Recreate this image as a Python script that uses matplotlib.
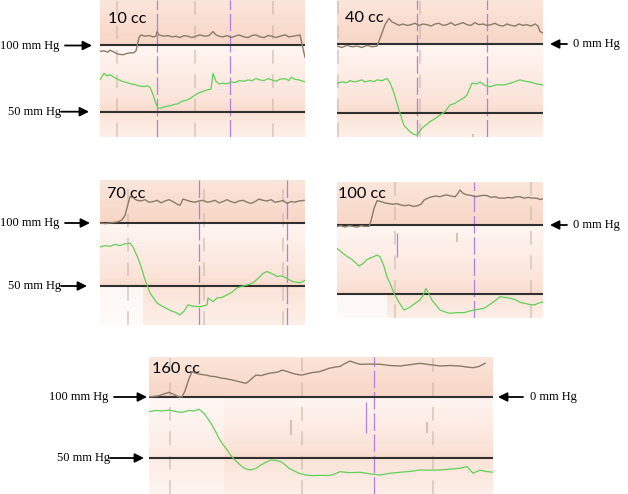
import numpy as np
import matplotlib.pyplot as plt
from matplotlib.colors import to_rgb

# ---- data (time in samples, pressure in mm Hg) ----
# green = arterial pressure (upper black line = 100, lower = 50)
# brown = second channel, 0 mm Hg at the upper black line
labels = ["10 cc", "40 cc", "70 cc", "100 cc", "160 cc"]
durations = [205, 206, 205, 206, 344]

p10_green = [(0, 74), (4, 79), (7, 77), (10, 78), (14, 76), (18, 74.5), (22, 73), (27, 72), (31, 71),
             (35, 70.5), (39, 69.5), (43, 69), (47, 69.5), (50, 68.5), (53, 63), (56, 56), (58, 52.5),
             (62, 53), (66, 54), (70, 54.5), (74, 55.5), (78, 56), (82, 58), (86, 58.5), (90, 60),
             (94, 62), (98, 64), (102, 65), (107, 66.5), (111, 67), (113, 79), (116, 73), (119, 71),
             (123, 71.5), (127, 71), (131, 72.5), (135, 72), (139, 73.5), (144, 73), (148, 74),
             (152, 73.5), (156, 75), (160, 74), (164, 73.5), (168, 75), (172, 74), (176, 73),
             (180, 74.5), (185, 75), (189, 73.5), (191, 76), (195, 74.5), (199, 74), (205, 72.5)]
p10_brown = [(0, -4.5), (4, -4), (8, -5), (10, -3.5), (14, -5), (18, -6.5), (23, -7), (27, -6),
             (31, -5.5), (34, -5.5), (36, -4), (39, 6), (41, 8), (45, 7), (49, 7.5), (53, 6.5),
             (56, 7), (57, 10.5), (59, 8), (64, 7), (68, 7.5), (72, 6.5), (76, 7), (80, 6), (84, 7.5),
             (88, 7), (92, 6), (96, 7), (100, 8), (105, 7), (109, 7.5), (113, 10.5), (116, 8), (119, 7),
             (123, 6.5), (127, 7.5), (131, 6), (135, 7), (139, 8), (144, 6.5), (148, 6), (152, 7.5),
             (156, 8), (160, 6.5), (164, 6), (168, 7.5), (172, 7), (176, 6), (180, 7), (185, 8),
             (189, 6.5), (193, 7), (197, 7.5), (200, 8), (205, -9)]

p40_green = [(0, 71.5), (5, 72.5), (10, 72), (13, 73.5), (17, 72.5), (20, 73), (25, 74), (28, 72.5),
             (33, 73.5), (37, 72.7), (40, 74), (45, 73.5), (50, 75), (53, 72), (57, 64.5), (62, 52),
             (67, 41), (73, 36.4), (77, 34.5), (80, 34), (85, 39), (93, 43.7), (98, 46), (103, 48.5),
             (108, 51), (113, 55.8), (118, 57), (123, 59.4), (127, 61), (130, 63), (135, 71.7),
             (140, 71), (143, 72.5), (148, 70), (153, 69), (160, 70.5), (167, 70.3), (175, 72),
             (183, 74), (188, 73), (193, 72.5), (200, 71), (206, 70.3)]
p40_brown = [(0, -1.5), (5, -2.5), (10, -1), (15, -2), (20, -1.5), (25, -2.5), (30, -1), (35, -2),
             (40, -1.5), (44, 6), (48, 14), (52, 18.5), (55, 16), (58, 15), (62, 13.5), (66, 14.5),
             (70, 13.5), (74, 14), (78, 15), (82, 13.5), (86, 14.5), (90, 14), (94, 13), (98, 14.5),
             (102, 15), (106, 13.5), (110, 14), (114, 15.5), (118, 13.5), (122, 14.5), (126, 15.5),
             (130, 14), (134, 13.5), (138, 15.5), (142, 14), (146, 14.5), (150, 13.5), (154, 14),
             (158, 15), (162, 13.5), (166, 13), (170, 14.5), (174, 13.5), (178, 13), (182, 14.5),
             (186, 13.5), (190, 14), (194, 13), (198, 14.5), (201, 13), (203, 9), (206, 8)]

p70_green = [(0, 81), (5, 82), (10, 81.5), (15, 83), (20, 82), (25, 83.5), (30, 84), (33, 81), (37, 74),
             (40, 68), (45, 55), (50, 44.5), (57, 36.5), (62, 34), (67, 32), (72, 30), (76, 29),
             (80, 27), (84, 30), (88, 35), (93, 34), (100, 33.5), (107, 35), (108, 40.5), (113, 37.6),
             (117, 40.5), (122, 41), (127, 43), (132, 45), (137, 48.5), (143, 50), (148, 51),
             (153, 52.5), (158, 56), (163, 60), (167, 61.5), (170, 60.5), (174, 59), (177, 57.5),
             (181, 58), (185, 57), (189, 55), (193, 53.5), (197, 53), (200, 52.5), (205, 54.5)]
p70_brown = [(0, 0), (5, -0.5), (10, 0), (13, 0.3), (18, 1), (22, 2.5), (25, 6), (28, 15), (30, 21),
             (33, 20), (37, 18), (41, 17.5), (45, 18.5), (49, 16.5), (53, 17), (57, 18), (61, 16),
             (65, 17.5), (69, 18.5), (73, 17), (77, 15), (80, 14), (83, 19), (87, 18), (91, 17),
             (95, 16.5), (99, 17.5), (103, 18), (107, 16.5), (111, 17), (115, 18), (119, 16), (123, 17),
             (127, 18.5), (131, 17), (135, 16), (139, 17.5), (143, 18), (147, 16.5), (151, 15.5),
             (155, 17), (159, 19), (163, 18), (167, 17.5), (171, 18.5), (175, 16.5), (179, 17),
             (183, 18), (187, 15.5), (191, 17), (195, 16.5), (199, 17.5), (205, 18)]

p100_green = [(0, 83), (5, 80), (10, 77.3), (15, 75), (22, 70.3), (26, 72), (30, 75), (35, 76.5),
              (40, 78.2), (43, 77), (47, 70), (50, 62.5), (54, 56), (57, 50.5), (62, 44), (67, 38.4),
              (72, 40), (77, 42.7), (83, 45.6), (86, 49), (89, 54), (92, 50), (95, 45.6), (99, 42),
              (103, 38.4), (108, 37), (113, 36), (120, 36.5), (127, 36.5), (132, 37.5), (137, 38.4),
              (142, 39), (147, 39.6), (152, 42), (157, 44.5), (163, 48), (168, 47.5), (173, 47),
              (178, 46), (183, 44), (187, 43.3), (192, 42.5), (197, 42), (202, 43.5), (206, 44.4)]
p100_brown = [(0, -1), (4, -0.5), (8, -1.5), (12, -0.5), (16, -1), (20, -1.5), (24, -0.5), (28, -1),
              (32, -1), (34, 3), (37, 12), (40, 17.6), (44, 17), (48, 16), (52, 15.5), (56, 15),
              (60, 15.5), (64, 14.5), (68, 14), (72, 14.5), (76, 13.5), (80, 13.8), (84, 15), (87, 18),
              (91, 19.5), (95, 20.5), (99, 21), (103, 20.5), (107, 21.5), (110, 21.8), (114, 21),
              (118, 20.4), (121, 23), (123, 25.4), (126, 23), (130, 21.8), (134, 21.5), (138, 20.5),
              (142, 21), (146, 21.5), (150, 21.3), (154, 20), (158, 20.5), (162, 19.5), (167, 19.4),
              (171, 20), (175, 19.5), (179, 20.5), (183, 20.4), (187, 19.5), (191, 20), (195, 19.5),
              (200, 19.4), (203, 18.5), (206, 18.9)]

p160_green = [(0, 88), (7, 89), (13, 88.5), (20, 89.3), (27, 88), (33, 87.4), (40, 89), (45, 88.5),
              (50, 90), (55, 86.6), (59, 82), (63, 77), (67, 71), (70, 66), (74, 61), (77, 58), (81, 53),
              (85, 49), (89, 46), (93, 43), (97, 41), (102, 40.2), (107, 41.5), (112, 44.3),
              (117, 46.5), (122, 48.4), (127, 48), (132, 47), (136, 44.5), (140, 41.6), (145, 39.5),
              (150, 37.5), (157, 36), (163, 35.6), (171, 35.8), (180, 35.6), (186, 37), (191, 38.8),
              (200, 38), (211, 38.3), (221, 37), (231, 36), (241, 37.5), (251, 38.3), (261, 39),
              (271, 40.2), (281, 40), (291, 40.2), (301, 40.8), (311, 41.6), (318, 43), (324, 37.5),
              (331, 40), (337, 39), (344, 38.3)]
p160_brown = [(0, 0), (5, 0.5), (10, 1), (15, 2.5), (20, 3.8), (25, 2), (30, 0), (33, 0), (36, 5),
              (40, 15), (43, 20.7), (47, 19.4), (52, 18.5), (57, 18), (62, 17), (67, 16.6), (72, 15.5),
              (77, 15), (83, 14), (88, 13), (93, 12), (97, 11.2), (100, 13), (104, 16), (107, 18),
              (112, 17.5), (116, 18.5), (120, 19.4), (125, 20), (129, 20.5), (133, 22), (138, 21),
              (143, 19.5), (148, 18.5), (153, 18), (158, 19), (163, 20), (170, 20.7), (175, 22),
              (180, 23.5), (186, 24.5), (191, 25), (196, 27.5), (201, 29.5), (206, 28), (211, 26.8),
              (221, 27), (231, 26.8), (241, 25.8), (251, 25.4), (261, 26.5), (271, 27.6), (281, 26.5),
              (291, 25.4), (301, 25.8), (311, 25.4), (318, 24.5), (324, 24), (330, 25), (336, 27.6)]

greens = [p10_green, p40_green, p70_green, p100_green, p160_green]
browns = [p10_brown, p40_brown, p70_brown, p100_brown, p160_brown]

# event markers (sample index)
purple_marks = [[57, 130], [80, 150], [99, 187], [137], [225]]
grey_marks = [[17, 95, 173], [1, 83], [28, 104, 183], [58, 194], [21, 153, 284]]
# short marker pieces: (sample, from mm Hg, to mm Hg)
purple_bits = [[], [], [], [(60, 77, 94)], [(217, 70.5, 96)]]
grey_bits = [[], [(136, 32, 35)], [], [(120, 88, 94)], [(142, 69, 81), (278, 70.5, 79.5)]]

# ---- layout of the five strips, in pixels of the 628x494 canvas ----
W, H = 628, 494
boxes = [(100, 0, 305, 137), (337, 0, 543, 137), (100, 180, 305, 325),
         (337, 182, 543, 318), (149, 357, 493, 494)]
line_px = [(45.5, 111.7), (44, 113), (223, 286), (225, 294), (397, 458)]
side = ["left", "right", "left", "right", "both"]
label_off = [(8, -23), (8, -22), (7, -18), (1, -16), (3, -16)]
head_gap = [8, 7, 10, 7, 2]
# pale (unshaded) patches: (until sample, from level, to level, strength)
pale = [[], [], [(43, "bot", 50, 0.75)], [(50, "bot", 50, 0.75)], [(75, "bot", 100, 0.35)]]

c_green = "#62cf58"
c_brown = "#8a7b68"
c_purple = "#b07fe6"
c_grey = "#c9b4a8"
c_line = "#303030"

plt.rcParams["font.family"] = "Liberation Serif"
fig = plt.figure(figsize=(W / 100, H / 100), dpi=100)


def gradient(ylo, yhi):
    stops_y = [ylo, 49.7, 50.3, 57, 99.7, 100.3, yhi]
    stops_c = ["#fdf0e8", "#fbe3d7", "#f9dbcc", "#fbe3d8", "#fff6f2", "#f7d6c6", "#fbe6db"]
    ys = np.linspace(ylo, yhi, 400)
    rgb = np.array([to_rgb(c) for c in stops_c])
    img = np.stack([np.interp(ys, stops_y, rgb[:, k]) for k in range(3)], axis=-1)
    return img[:, None, :]


def arrow(ax, xfrac, level, x_tail, gap):
    # tail offset and head gap in pixels from the strip edge
    ax.annotate("", xy=(xfrac, level), xycoords=("axes fraction", "data"),
                xytext=(x_tail, 0), textcoords="offset pixels",
                arrowprops=dict(arrowstyle="-|>,head_length=0.6,head_width=0.3",
                                color="black", lw=1.3, shrinkA=0, shrinkB=gap * 0.72,
                                mutation_scale=9),
                annotation_clip=False)


for i in range(5):
    x0, y0, x1, y1 = boxes[i]
    up, lo = line_px[i]
    dur = durations[i]
    k = 50.0 / (lo - up)
    ytop = 100 + (up - y0) * k
    ybot = 50 - (y1 - lo) * k

    ax = fig.add_axes([x0 / W, 1 - y1 / H, (x1 - x0) / W, (y1 - y0) / H])
    ax.set_xlim(0, dur)
    ax.set_ylim(ybot, ytop)
    ax.axis("off")
    ax.imshow(gradient(ybot, ytop), extent=(0, dur, ybot, ytop), origin="lower",
              aspect="auto", interpolation="bilinear", zorder=0)
    for t, a, b, s in pale[i]:
        a = ybot if a == "bot" else a
        ax.fill_between([0, t], a, b, color="white", alpha=s, lw=0, zorder=0.5)

    for t in grey_marks[i]:
        ax.axvline(t, color=c_grey, lw=1.1, ls=(0, (9, 7)), alpha=0.7, zorder=1)
    for t, a, b in grey_bits[i]:
        ax.vlines(t, a, b, color=c_grey, lw=1.1, zorder=1)
    for t in purple_marks[i]:
        ax.axvline(t, color=c_purple, lw=0.9, ls=(0, (14, 3)), zorder=1)
    for t, a, b in purple_bits[i]:
        ax.vlines(t, a, b, color=c_purple, lw=0.9, zorder=1)

    ax.axhline(100, color=c_line, lw=1.5, zorder=2)
    ax.axhline(50, color=c_line, lw=1.5, zorder=2)

    g = np.array(greens[i]).T
    ax.plot(g[0], g[1], color=c_green, lw=0.9, zorder=3)

    bx = ax.twinx()
    bx.set_ylim(ybot - 100, ytop - 100)
    bx.axis("off")
    b = np.array(browns[i]).T
    bx.plot(b[0], b[1], color=c_brown, lw=1.0, zorder=3)

    ax.annotate(labels[i], xy=(0, 1), xycoords="axes fraction", xytext=label_off[i],
                textcoords="offset pixels", va="baseline", ha="left",
                fontsize=11.7, family="Lato", color="black", zorder=5)

    if side[i] in ("left", "both"):
        hg = head_gap[i]
        arrow(ax, 0, 100, -35, hg)
        ax.annotate("100 mm Hg", xy=(0, 100), xycoords=("axes fraction", "data"),
                    xytext=(-41, 0), textcoords="offset pixels", ha="right", va="center",
                    fontsize=9, annotation_clip=False)
        arrow(ax, 0, 50, -39, hg + 3)
        ax.annotate("50 mm Hg", xy=(0, 50), xycoords=("axes fraction", "data"),
                    xytext=(-39, 0), textcoords="offset pixels", ha="right", va="center",
                    fontsize=9, annotation_clip=False)
    if side[i] in ("right", "both"):
        far = side[i] == "both"
        arrow(ax, 1, 100, 30 if far else 24, 5 if far else 7)
        ax.annotate("0 mm Hg", xy=(1, 100), xycoords=("axes fraction", "data"),
                    xytext=(37 if far else 30, 0),
                    textcoords="offset pixels", ha="left", va="center",
                    fontsize=9, annotation_clip=False)

fig.savefig("out.png", dpi=100)
